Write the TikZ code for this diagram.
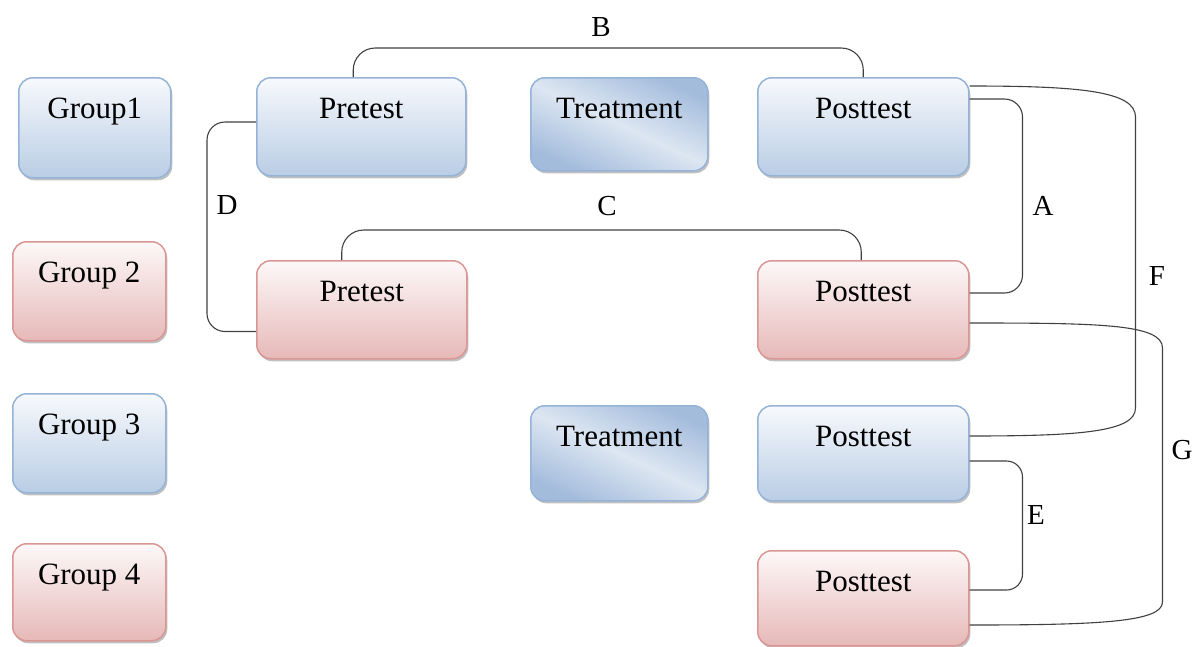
\documentclass[tikz,border=0pt]{standalone}
\usepackage{fontspec}
\setmainfont{Liberation Serif}
\usetikzlibrary{shadows,calc}
\definecolor{bluetop}{HTML}{F7F9FC}
\definecolor{bluebot}{HTML}{B9CDE5}
\definecolor{blueline}{HTML}{95B3D7}
\definecolor{redtop}{HTML}{FDF8F8}
\definecolor{redbot}{HTML}{E6B9B8}
\definecolor{redline}{HTML}{D99694}
\definecolor{trdark}{HTML}{A3BCDC}
\definecolor{trlight}{HTML}{DDE6F2}
\definecolor{connc}{HTML}{404040}
\tikzset{
  box/.style={rounded corners=14pt, line width=1.5pt, inner xsep=0pt, inner ysep=0pt,
    text height=41pt, anchor=north west,
    font=\fontsize{31}{37}\selectfont,
    drop shadow={shadow xshift=1.5pt, shadow yshift=-2.5pt, opacity=0.45, fill=black!55}},
  bluebox/.style={box, draw=blueline, top color=bluetop, bottom color=bluebot},
  redbox/.style={box, draw=redline, top color=redtop, bottom color=redbot},
  treatbox/.style={box, draw=blueline, left color=trdark, right color=trdark,
    middle color=trlight, shading angle=155},
  conn/.style={draw=connc, line width=1.1pt, rounded corners=22pt},
  longconn/.style={draw=connc, line width=1.1pt, sharp corners},
  lbl/.style={font=\fontsize{29}{35}\selectfont, inner sep=0pt}
}
\begin{document}
\begin{tikzpicture}[x=1pt,y=-1pt]
\useasboundingbox (0,0) rectangle (1196,646);

% group column
\node[bluebox, minimum width=152pt, minimum height=100pt, text depth=59pt] (g1) at (18,77) {Group1};
\node[redbox,  minimum width=153pt, minimum height=99pt,  text depth=58pt] (g2) at (12,241) {Group 2};
\node[bluebox, minimum width=153pt, minimum height=99pt,  text depth=58pt] (g3) at (12,393) {Group 3};
\node[redbox,  minimum width=153pt, minimum height=97pt,  text depth=56pt] (g4) at (12,543) {Group 4};

% tests and treatments
\node[bluebox, minimum width=209pt, minimum height=98pt, text depth=57pt] (pre1) at (256,77) {Pretest};
\node[treatbox, minimum width=177pt, minimum height=93pt, text depth=52pt] (tr1) at (530,77) {Treatment};
\node[bluebox, minimum width=211pt, minimum height=98pt, text depth=57pt] (post1) at (757,77) {Posttest};
\node[redbox,  minimum width=210pt, minimum height=98pt, text depth=57pt] (pre2) at (256,260) {Pretest};
\node[redbox,  minimum width=211pt, minimum height=98pt, text depth=57pt] (post2) at (757,260) {Posttest};
\node[treatbox, minimum width=177pt, minimum height=95pt, text depth=54pt] (tr2) at (530,405) {Treatment};
\node[bluebox, minimum width=211pt, minimum height=95pt, text depth=54pt] (post3) at (757,405) {Posttest};
\node[redbox,  minimum width=211pt, minimum height=95pt, text depth=54pt] (post4) at (757,550) {Posttest};

% comparison connectors
\draw[conn] ([xshift=-8pt]pre1.north) -- ++(0,-29) -| (post1.north);
\draw[conn] ([xshift=-20pt]pre2.north) -- ++(0,-30) -| ([xshift=-2pt]post2.north);
\draw[conn, rounded corners=18pt] ([yshift=-45pt]pre1.north west) -- ++(-49,0) |- ([yshift=28pt]pre2.south west);
\draw[conn, rounded corners=18pt] ([yshift=-22pt]post1.north east) -- ++(53,0) |- ([yshift=-33pt]post2.north east);
\draw[conn, rounded corners=16pt] ([yshift=-56pt]post3.north east) -- ++(53,0) |- ([yshift=-40pt]post4.north east);

% the two long connectors on the right
\coordinate (fTop) at ($(post1.north east)+(166,40)$);
\coordinate (fBot) at ($(post3.north east)+(166,3)$);
\draw[longconn] ([yshift=-9pt]post1.north east) .. controls +(110,0) and +(0,-26) .. (fTop)
  -- (fBot) .. controls +(0,24) and +(110,0) .. ([yshift=-31pt]post3.north east);
\coordinate (gTop) at ($(post2.north east)+(193,88)$);
\coordinate (gBot) at ($(post4.north east)+(193,52)$);
\draw[longconn] ([yshift=-63pt]post2.north east) .. controls +(130,0) and +(0,-24) .. (gTop)
  -- (gBot) .. controls +(0,20) and +(130,0) .. ([yshift=-75pt]post4.north east);

% connector labels
\node[lbl] (lB) at (601,27) {B};
\node[lbl] (lC) at (607,206) {C};
\node[lbl] (lD) at (227,205) {D};
\node[lbl] (lA) at (1043,206) {A};
\node[lbl] (lF) at (1157,276) {F};
\node[lbl] (lG) at (1182,450) {G};
\node[lbl] (lE) at (1036,515) {E};
\end{tikzpicture}
\end{document}
